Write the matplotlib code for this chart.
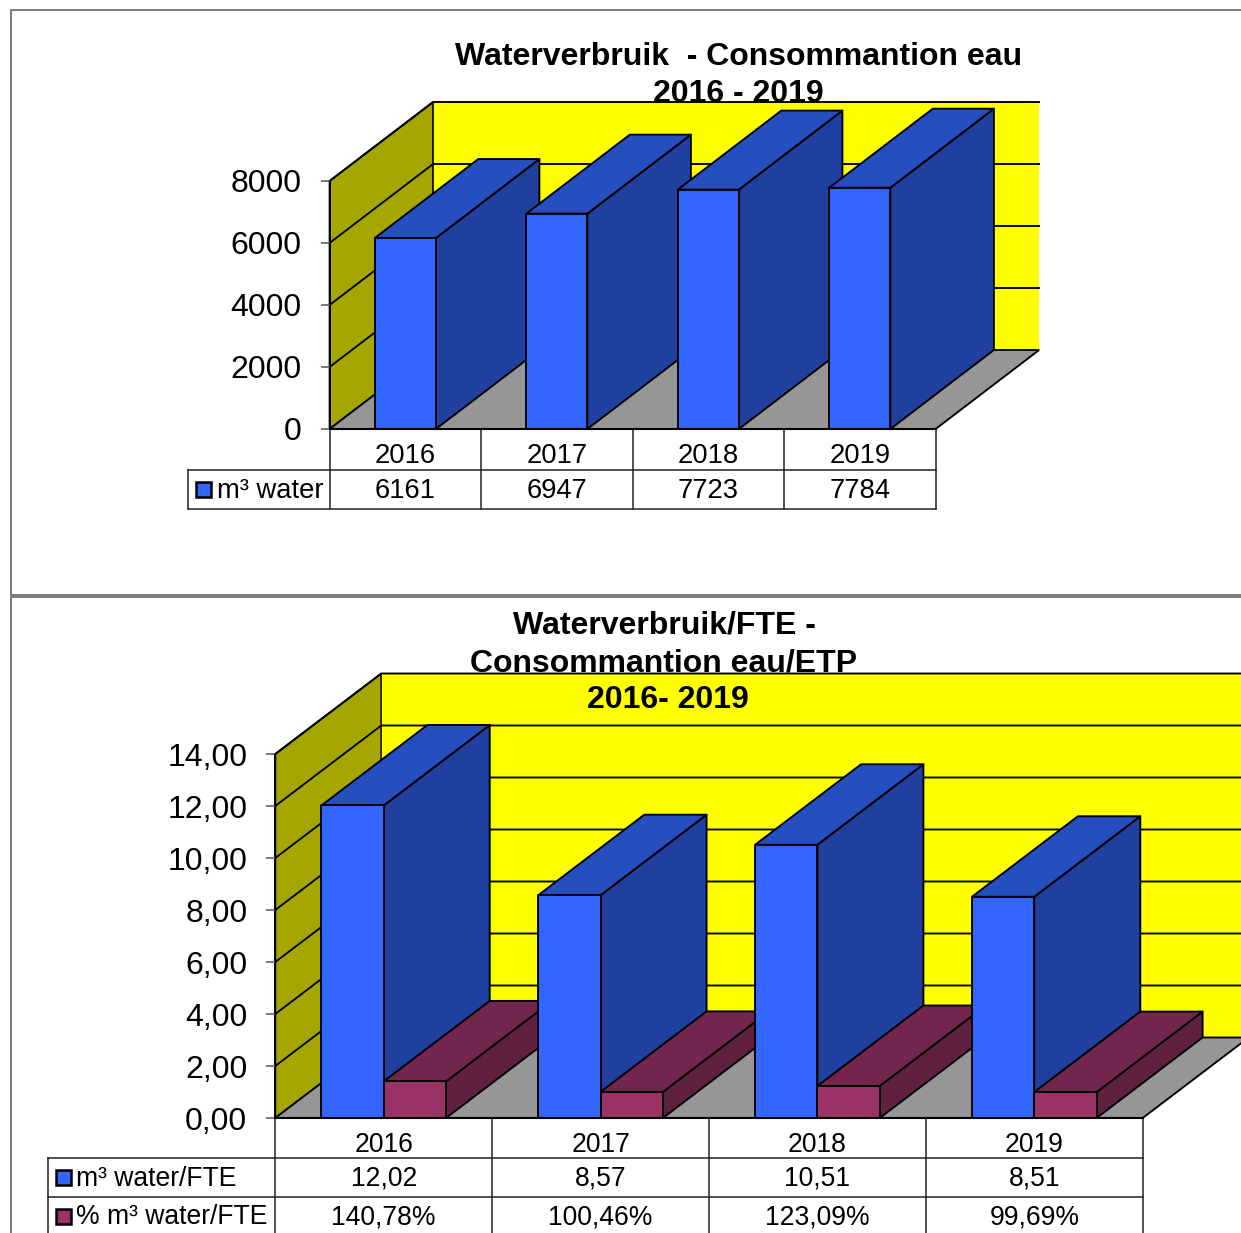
import matplotlib
matplotlib.use('Agg')
import matplotlib.pyplot as plt
from matplotlib.lines import Line2D

plt.rcParams['font.family'] = ['Liberation Sans', 'DejaVu Sans']

W, H = 1241, 1233

years = ['2016', '2017', '2018', '2019']
m3_water = [6161, 6947, 7723, 7784]
m3_water_fte = [12.02, 8.57, 10.51, 8.51]
pct_water_fte = [140.78, 100.46, 123.09, 99.69]

ticks1 = [0, 2000, 4000, 6000, 8000]
ticks2 = [0, 2, 4, 6, 8, 10, 12, 14]

BLUE = ('#3366ff', '#254ebf', '#2040a0')
PURPLE = ('#993366', '#73264d', '#602040')
PX = 0.72  # px to pt at dpi 100
LW = 1.35


def comma(v):
    return ('%.2f' % v).replace('.', ',')


fig = plt.figure(figsize=(W / 100, H / 100), dpi=100, facecolor='white')


def make_axes(x0, x1, ytop, ybottom, ymax):
    ax = fig.add_axes([x0 / W, 1 - ybottom / H, (x1 - x0) / W, (ybottom - ytop) / H])
    ax.set_xlim(0, 4)
    ax.set_ylim(0, ymax)
    ax.patch.set_visible(False)
    for s in ax.spines.values():
        s.set_visible(False)
    ax.set_xticks([])
    return ax


def draw_walls(ax, ticks, dx, dy):
    ymax = ticks[-1]
    ec = dict(edgecolor='black', linewidth=LW, clip_on=False)
    ax.fill([0, dx, dx, 0], [0, dy, ymax + dy, ymax], facecolor='#a6a600', zorder=0.5, **ec)
    ax.fill([dx, 4 + dx, 4 + dx, dx], [dy, dy, ymax + dy, ymax + dy], facecolor='#ffff00',
            zorder=0.5, edgecolor='none', clip_on=False)
    ax.fill([0, 4, 4 + dx, dx], [0, 0, dy, dy], facecolor='#969696', zorder=0.6, **ec)
    for t in ticks[1:]:
        ax.plot([0, dx, 4 + dx], [t, t + dy, t + dy], color='black', lw=LW, zorder=1,
                clip_on=False)
    ax.plot([dx, dx], [dy, ymax + dy], color='black', lw=0.6, zorder=1, clip_on=False)
    ax.plot([0, 0], [0, ymax], color='black', lw=LW, zorder=1, clip_on=False)


def draw_bar(ax, x, w, v, dx, dy, cols):
    ec = dict(edgecolor='black', linewidth=LW, clip_on=False, zorder=3, joinstyle='round')
    ax.fill([x + w, x + w + dx, x + w + dx, x + w], [0, dy, v + dy, v], facecolor=cols[2], **ec)
    ax.fill([x, x + dx, x + w + dx, x + w], [v, v + dy, v + dy, v], facecolor=cols[1], **ec)
    ax.fill([x, x + w, x + w, x], [0, 0, v, v], facecolor=cols[0], **ec)


def draw_table(ax, rows, row_px, head_x, text_x, swatch_x, fs, px_per_val):
    # row_px: y of every row edge, counted in pixels below the axis
    to_y = lambda p: -p / px_per_val
    px_per_cat = ax.get_window_extent().width / 4
    lo = to_y(row_px[-1])
    line = dict(color='#222222', lw=1.1, zorder=4, clip_on=False)
    for i in range(5):
        ax.plot([i, i], [0, lo], **line)
    for p in row_px[1:]:
        ax.plot([head_x, 4], [to_y(p), to_y(p)], **line)
    ax.plot([head_x, head_x], [to_y(row_px[1]), lo], **line)
    ax.plot([0, 4], [0, 0], color='black', lw=1.5, zorder=4, clip_on=False)
    for i, y in enumerate(years):
        ax.text(i + 0.5, to_y(row_px[0] + 27), y, ha='center', va='center', fontsize=fs, zorder=5)
    for r, (label, vals, col) in enumerate(rows):
        yc = to_y(row_px[r + 1] + 20.5)
        ax.text(text_x, yc, label, ha='left', va='center', fontsize=fs, zorder=5)
        s = 7.5
        ax.fill([swatch_x - s / px_per_cat, swatch_x + s / px_per_cat, swatch_x + s / px_per_cat,
                 swatch_x - s / px_per_cat],
                [to_y(row_px[r + 1] + 19 + s), to_y(row_px[r + 1] + 19 + s),
                 to_y(row_px[r + 1] + 19 - s), to_y(row_px[r + 1] + 19 - s)],
                facecolor=col, edgecolor='black', linewidth=1.8, zorder=5, clip_on=False)
        for i, v in enumerate(vals):
            ax.text(i + 0.5, yc, v, ha='center', va='center', fontsize=fs, zorder=5)


# CHART 1

ax1 = make_axes(329.6, 935.6, 181, 429, 8000)
cat1 = 606 / 4.0
val1 = 248 / 8000.0
dx1, dy1 = 103.5 / cat1, 79 / val1
draw_walls(ax1, ticks1, dx1, dy1)
w1 = 1 / (1 + 1.48)
for i, v in enumerate(m3_water):
    draw_bar(ax1, i + 0.74 * w1, w1, v, dx1, dy1, BLUE)
ax1.set_yticks(ticks1)
ax1.set_yticklabels([str(t) for t in ticks1], fontsize=32 * PX)
ax1.tick_params(axis='y', length=9 * PX, width=1.1, pad=19 * PX, color='#555555')
draw_table(ax1, [('m³ water', [str(v) for v in m3_water], BLUE[0])],
           [0, 41, 80], -142 / cat1, -113 / cat1, -126 / cat1, 27.4 * PX, val1)

# CHART 2

ax2 = make_axes(275.3, 1142.7, 754, 1118, 14)
cat2 = 867.4 / 4.0
val2 = 364 / 14.0
dx2, dy2 = 106 / cat2, 80.5 / val2
draw_walls(ax2, ticks2, dx2, dy2)
w2 = 1 / (2 + 1.48)
for i in range(4):
    draw_bar(ax2, i + 0.74 * w2, w2, m3_water_fte[i], dx2, dy2, BLUE)
    draw_bar(ax2, i + 0.74 * w2 + w2, w2, pct_water_fte[i] / 100, dx2, dy2, PURPLE)
ax2.set_yticks(ticks2)
ax2.set_yticklabels([comma(t) for t in ticks2], fontsize=32 * PX)
ax2.tick_params(axis='y', length=9 * PX, width=1.1, pad=19 * PX, color='#555555')
draw_table(ax2, [('m³ water/FTE', [comma(v) for v in m3_water_fte], BLUE[0]),
                 ('% m³ water/FTE', [comma(v) + '%' for v in pct_water_fte], PURPLE[0])],
           [0, 40, 79, 118], -227 / cat2, -199 / cat2, -212 / cat2, 26.5 * PX, val2)

# titles and chart frames

title_fs = 32 * PX
for x, y, s in [(739, 57, 'Waterverbruik  - Consommantion eau'), (738, 94, '2016 - 2019'),
                (664, 625, 'Waterverbruik/FTE -'), (664, 663, 'Consommantion eau/ETP'),
                (668, 700, '2016- 2019')]:
    fig.text(x / W, 1 - y / H, s, ha='center', va='center', fontsize=title_fs, fontweight='bold')

for xs, ys in [([11, 11, W], [595, 10, 10]), ([11, W], [595, 595]), ([11, 11, W], [H, 597, 597])]:
    fig.add_artist(Line2D([x / W for x in xs], [1 - y / H for y in ys], color='#707070', lw=1.3))

fig.savefig('out.png', dpi=100)
